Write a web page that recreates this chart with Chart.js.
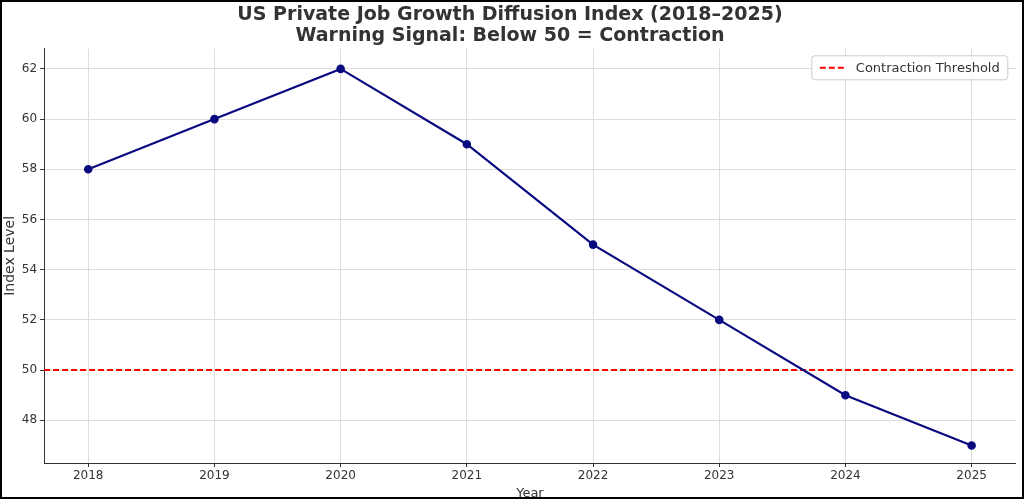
<!DOCTYPE html>
<html>
<head>
<meta charset="utf-8">
<script src="https://cdn.jsdelivr.net/npm/chart.js@4/dist/chart.umd.min.js"></script>
<style>
  html, body { margin: 0; padding: 0; background: #fff; }
  #wrap { width: 1024px; height: 499px; box-sizing: border-box; border: 2px solid #000; box-shadow: 3px 3px 3px #888; }
</style>
</head>
<body>
<div id="wrap"><canvas id="chart" width="1020" height="495"></canvas></div>
<script>
// Diffusion index values
const years = [2018, 2019, 2020, 2021, 2022, 2023, 2024, 2025];
const index = [58, 60, 62, 59, 55, 52, 49, 47];
const threshold = 50;

// Legend drawn by hand so the dashed line shows up
const legendBox = {
  id: 'legendBox',
  afterDraw(chart) {
    const c = chart.ctx, a = chart.chartArea;
    const w = 196, h = 24, x = a.right - w - 8, y = a.top + 7;
    c.save();
    c.fillStyle = 'rgba(255,255,255,0.85)';
    c.strokeStyle = '#ccc';
    c.lineWidth = 1;
    c.beginPath(); c.roundRect(x, y, w, h, 3); c.fill(); c.stroke();
    c.strokeStyle = '#ff0000'; c.lineWidth = 2; c.setLineDash([6, 3]);
    c.beginPath(); c.moveTo(x + 8, y + h / 2); c.lineTo(x + 34, y + h / 2); c.stroke();
    c.setLineDash([]);
    c.fillStyle = '#333'; c.font = '13px "DejaVu Sans"'; c.textBaseline = 'middle';
    c.fillText('Contraction Threshold', x + 44, y + h / 2 + 1);
    c.restore();
  }
};

const ctx = document.getElementById('chart').getContext('2d');
new Chart(ctx, {
  type: 'line',
  data: {
    datasets: [{
      label: 'Contraction Threshold',
      data: [{x: 2017.65, y: threshold}, {x: 2025.35, y: threshold}],
      borderColor: '#ff0000',
      borderDash: [6, 3],
      borderWidth: 2,
      pointRadius: 0,
      order: 2
    }, {
      label: 'Diffusion Index',
      data: years.map((y, i) => ({x: y, y: index[i]})),
      borderColor: '#0a0a80',
      backgroundColor: '#0a0a80',
      borderWidth: 2.2,
      pointRadius: 3.2,
      tension: 0,
      order: 1
    }]
  },
  options: {
    responsive: false,
    animation: false,
    layout: { padding: { top: 0, right: 4, left: 0, bottom: -4 } },
    plugins: {
      legend: { display: false },
      tooltip: { enabled: false },
      title: {
        display: true,
        text: ['US Private Job Growth Diffusion Index (2018–2025)', 'Warning Signal: Below 50 = Contraction'],
        color: '#333',
        font: { family: 'DejaVu Sans', size: 19, weight: 'bold', lineHeight: 1.1 },
        padding: { top: 3, bottom: 2 }
      }
    },
    scales: {
      x: {
        type: 'linear', min: 2017.65, max: 2025.35,
        afterBuildTicks: s => { s.ticks = years.map(v => ({value: v})); },
        ticks: { color: '#333', font: { family: 'DejaVu Sans', size: 12 }, padding: 2, callback: v => String(v) },
        grid: { color: '#ddd', drawTicks: true, tickLength: 4, tickColor: '#333' },
        border: { color: '#333' },
        title: { display: true, text: 'Year', color: '#333', font: { family: 'DejaVu Sans', size: 13 }, padding: 0 }
      },
      y: {
        min: 46.3, max: 62.8,
        afterBuildTicks: s => { s.ticks = [48, 50, 52, 54, 56, 58, 60, 62].map(v => ({value: v})); },
        ticks: { color: '#333', font: { family: 'DejaVu Sans', size: 12 } },
        grid: { color: '#ddd', tickLength: 4, tickColor: '#333' },
        border: { color: '#333' },
        title: { display: true, text: 'Index Level', color: '#333', font: { family: 'DejaVu Sans', size: 14 }, padding: 0 }
      }
    }
  },
  plugins: [legendBox]
});
</script>
</body>
</html>
